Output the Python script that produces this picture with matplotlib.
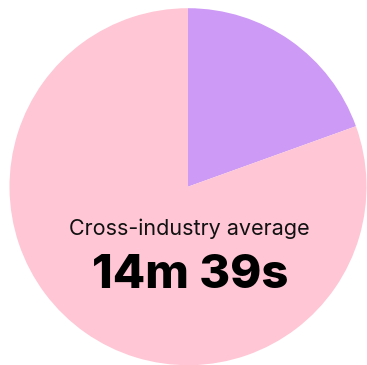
import matplotlib
matplotlib.use('Agg')
import matplotlib.pyplot as plt

# share of the cross-industry slice vs the rest
labels = ['Highlight', 'Rest']
values = [19.5, 80.5]
colors = ['#CD9AF5', '#FFC6D5']
caption = 'Cross-industry average'
headline = '14m 39s'

fig = plt.figure(figsize=(3.67, 3.65), dpi=100)
ax = fig.add_axes([9.5 / 367, -0.2 / 365, 357 / 367, 357 / 365])
ax.pie(values, colors=colors, startangle=90, counterclock=False, radius=1,
       wedgeprops=dict(linewidth=0))
ax.set_xlim(-1, 1)
ax.set_ylim(-1, 1)
ax.set_aspect('equal')
ax.axis('off')

ax.text(0.01, -0.235, caption, ha='center', va='center', fontsize=15.5,
        family='Inter', color='#111111')
ax.text(0.01, -0.50, headline, ha='center', va='center', fontsize=34,
        family='Inter', fontweight='heavy', color='#000000')

plt.savefig('out.png', dpi=100)
